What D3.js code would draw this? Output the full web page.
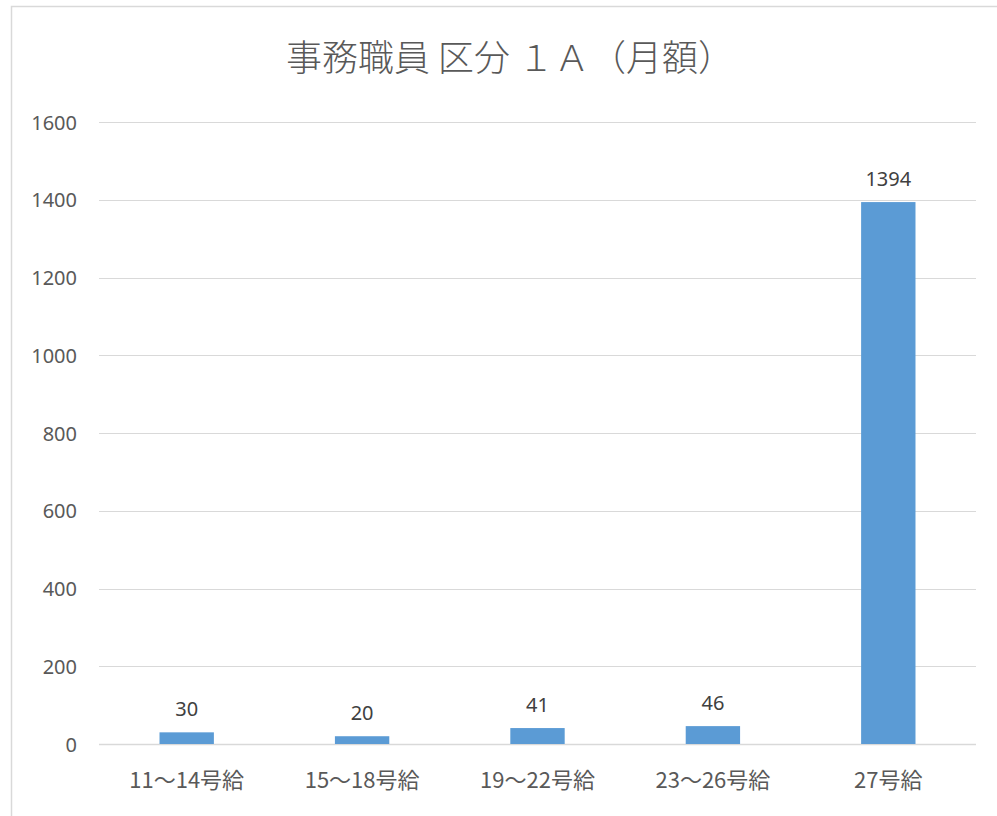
<!DOCTYPE html>
<html><head><meta charset="utf-8">
<script src="https://cdn.jsdelivr.net/npm/d3@7"></script>
<style>html,body{margin:0;padding:0;background:#fff;}svg{display:block;}</style>
</head><body>
<script>
const titleText = "事務職員 区分 １Ａ（月額）";
const categories = ["11～14号給","15～18号給","19～22号給","23～26号給","27号給"];
const values = [30, 20, 41, 46, 1394];
const yTicks = [0,200,400,600,800,1000,1200,1400,1600];

(function () {
const W = 997, H = 816;
const svg = d3.select("body").append("svg").attr("width", W).attr("height", H);
const NUM = "'Noto Sans','Noto Sans CJK JP',sans-serif";
const CJK = "'Noto Sans CJK JP','Noto Sans',sans-serif";

// chart area border
svg.append("rect").attr("x", 11.5).attr("y", 6.5).attr("width", 1000).attr("height", 830)
  .attr("fill", "none").attr("stroke", "#d9d9d9").attr("stroke-width", 1.5);

const pl = 99, pr = 976, pt = 122, pb = 744;
const y = d3.scaleLinear().domain([0, 1600]).range([pb, pt]);
const x = d3.scaleBand().domain(categories).range([pl, pr]).padding(0);

// gridlines
svg.append("g").selectAll("line").data(yTicks).join("line")
  .attr("x1", pl).attr("x2", pr)
  .attr("y1", d => Math.round(y(d)) + 0.5).attr("y2", d => Math.round(y(d)) + 0.5)
  .attr("stroke", "#d9d9d9").attr("stroke-width", d => d === 0 ? 1.5 : 1.2);

// y axis labels
const yAxis = d3.axisLeft(y).tickValues(yTicks).tickFormat(d3.format("d")).tickSize(0).tickPadding(0);
const gy = svg.append("g").attr("transform", `translate(77,0)`).call(yAxis);
gy.select(".domain").remove();
gy.selectAll("text").attr("font-family", NUM).attr("font-size", 20).attr("fill", "#595959").attr("dy", "0.35em");

// bars
const bw = x.bandwidth() * 0.31;
svg.append("g").selectAll("rect").data(values).join("rect")
  .attr("x", (d, i) => x(categories[i]) + x.bandwidth() / 2 - bw / 2)
  .attr("y", d => y(d))
  .attr("width", bw)
  .attr("height", d => y(0) - y(d))
  .attr("fill", "#5b9bd5");

// data labels
svg.append("g").selectAll("text").data(values).join("text")
  .attr("x", (d, i) => x(categories[i]) + x.bandwidth() / 2)
  .attr("y", d => y(d) - 16)
  .attr("text-anchor", "middle")
  .attr("font-family", NUM).attr("font-size", 20).attr("fill", "#404040")
  .text(d => d);

// x axis labels
const xAxis = d3.axisBottom(x).tickSize(0).tickPadding(0);
const gx = svg.append("g").attr("transform", `translate(0,${pb})`).call(xAxis);
gx.select(".domain").remove();
gx.selectAll("text").attr("font-family", CJK).attr("font-size", 22).attr("fill", "#595959")
  .attr("y", 44).attr("dy", 0);

// title
svg.append("text").attr("x", 510).attr("y", 71).attr("text-anchor", "middle")
  .attr("font-family", CJK).attr("font-size", 36).attr("font-weight", 300).attr("fill", "#595959")
  .text(titleText);
})();
</script>
</body></html>
